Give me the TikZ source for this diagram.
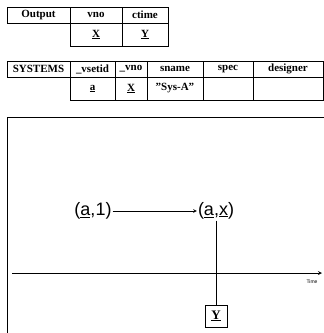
\documentclass[tikz,border=0pt]{standalone}
\usepackage{fontspec}
\setmainfont{Liberation Serif}
\setsansfont{Liberation Sans}
\usetikzlibrary{positioning,arrows}
\newcommand{\uvar}[2][1.2pt]{\leavevmode\vtop{\hbox{#2}\kern0.8pt\hrule height #1}}

\begin{document}
\begin{tikzpicture}[x=1pt, y=-1pt,
hcell/.style={draw, line width=0.7pt, outer sep=0pt, inner sep=0pt, minimum height=16pt, font=\bfseries\fontsize{11}{11}\selectfont},
dcell/.style={hcell, minimum height=23pt},
lbl/.style={font=\sffamily\fontsize{18}{18}\selectfont, inner sep=1pt}
]
    \useasboundingbox (0,0) rectangle (324,333);

    %Output table
    \node[hcell, minimum width=63pt, anchor=north west]
        (out)                       at (7,7) {Output};
    \node[hcell, minimum width=52pt]
        (outVno)    [right=0pt of out]      {vno};
    \node[hcell, minimum width=46pt]
        (outCtime)  [right=0pt of outVno]   {ctime};
    \node[dcell, minimum width=52pt]
        (outX)      [below=0pt of outVno]   {\uvar{X}};
    \node[dcell, minimum width=46pt]
        (outY)      [below=0pt of outCtime] {\uvar{Y}};

    %SYSTEMS table
    \node[hcell, minimum width=63pt, anchor=north west]
        (sys)                       at (7,61) {SYSTEMS};
    \node[hcell, minimum width=45pt]
        (sysVsetid) [right=0pt of sys]      {\_vsetid};
    \node[hcell, minimum width=32pt]
        (sysVno)    [right=0pt of sysVsetid] {\_vno};
    \node[hcell, minimum width=56pt]
        (sysSname)  [right=0pt of sysVno]   {sname};
    \node[hcell, minimum width=50pt]
        (sysSpec)   [right=0pt of sysSname] {spec};
    \node[hcell, minimum width=70pt]
        (sysDesig)  [right=0pt of sysSpec]  {designer};
    \node[dcell, minimum width=45pt]
        (sysA)      [below=0pt of sysVsetid] {\uvar{a}};
    \node[dcell, minimum width=32pt]
        (sysX)      [below=0pt of sysVno]   {\uvar{X}};
    \node[dcell, minimum width=56pt]
        (sysName)   [below=0pt of sysSname] {"Sys-A"};
    \node[dcell, minimum width=50pt]
        (sysSp)     [below=0pt of sysSpec]  {};
    \node[dcell, minimum width=70pt]
        (sysDe)     [below=0pt of sysDesig] {};

    %Frame
    \draw[line width=0.7pt] (7,333) -- (7,117) -- (324,117);

    %Nodes
    \node[lbl] (a1) at (93,211) {(\uvar[0.6pt]{a},1)};
    \node[lbl] (ax) at (216,211) {(\uvar[0.6pt]{a},\uvar[0.6pt]{x})};
    \node[draw, line width=0.7pt, minimum size=22pt, inner sep=0pt,
          font=\bfseries\fontsize{13}{13}\selectfont]
        (yBox) at (216,316) {\uvar{Y}};
    \coordinate (t0) at (12,273);
    \coordinate (t1) at (322,273);
    \node[font=\sffamily\fontsize{5}{5}\selectfont, inner sep=0pt]
        (time) at (312,282) {Time};

    %Lines
    \draw[->, >=stealth, line width=0.6pt] (a1.east) -- (ax.west);
    \draw[line width=0.6pt] (ax.south) -- (yBox.north);
    \draw[->, >=stealth, line width=0.8pt] (t0) -- (t1);
\end{tikzpicture}
\end{document}
